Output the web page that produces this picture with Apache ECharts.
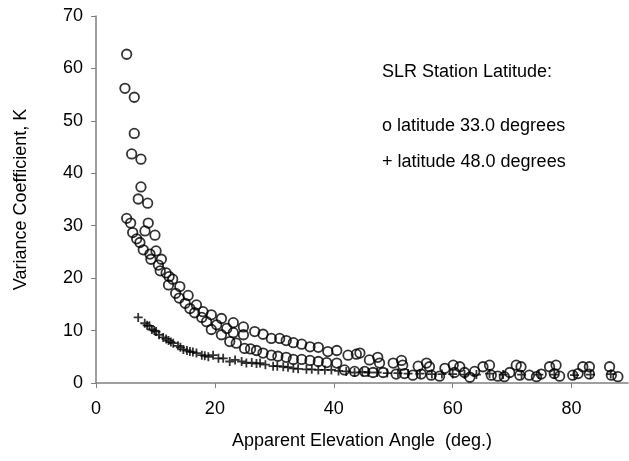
<!DOCTYPE html>
<html>
<head>
<meta charset="utf-8">
<script src="https://cdn.jsdelivr.net/npm/echarts@6/dist/echarts.min.js"></script>
<style>
  html, body { margin: 0; padding: 0; background: #fff; }
  #chart { width: 629px; height: 461px; }
</style>
</head>
<body>
<div id="chart"></div>
<script>
// elevation angle (deg) vs variance coefficient K
var lat33 = [
  [5.16, 62.7], [4.87, 56.2], [6.44, 54.5], [6.44, 47.6], [6.0, 43.7], [7.56, 42.7],
  [7.56, 37.4], [7.11, 35.1], [8.69, 34.3], [5.16, 31.4], [5.83, 30.5], [8.79, 30.5],
  [6.17, 28.7], [8.24, 29.0], [9.92, 28.2], [6.84, 27.5], [7.39, 26.8], [7.95, 25.4],
  [10.1, 25.2], [9.08, 24.6], [9.24, 23.6], [11.0, 23.6], [10.5, 22.5], [10.8, 21.4],
  [11.8, 21.0], [12.3, 20.3], [12.9, 19.8], [12.2, 18.7], [14.1, 18.4], [13.4, 17.1],
  [15.5, 16.7], [14.0, 16.2], [15.0, 15.2], [16.9, 14.9], [15.8, 14.2], [18.0, 13.6],
  [16.6, 13.4], [19.4, 13.0], [17.8, 12.5], [21.1, 12.3], [18.6, 11.7], [23.1, 11.5],
  [20.3, 11.1], [19.4, 10.2], [22.0, 10.4], [21.1, 9.2], [23.1, 9.6], [24.8, 9.2],
  [22.5, 7.9], [23.6, 7.6],
  [24.8, 10.7], [26.7, 9.8], [28.1, 9.3], [29.5, 8.5], [30.9, 8.5], [32.0, 8.1],
  [33.2, 7.7], [34.6, 7.4], [36.0, 6.9], [37.4, 6.8], [39.0, 6.0], [40.5, 6.2],
  [42.4, 5.3], [43.8, 5.5],
  [25.0, 6.6], [26.0, 6.5], [27.0, 6.2], [28.1, 5.7], [29.5, 5.3], [30.6, 5.1],
  [32.0, 4.9], [33.2, 4.5], [34.6, 4.5], [36.0, 4.3], [37.4, 4.1], [38.8, 3.9],
  [40.5, 3.8], [41.8, 2.5], [43.5, 2.2],
  [44.4, 5.7], [46.0, 4.4], [47.4, 4.9], [47.7, 3.8], [50.0, 3.8], [51.4, 4.3],
  [51.6, 3.4], [54.2, 3.2], [55.6, 3.8], [56.1, 3.1], [58.7, 2.8], [60.1, 3.4],
  [61.2, 3.1], [62.0, 2.0], [62.9, 1.1], [63.7, 2.2],
  [45.2, 2.2], [46.6, 2.0], [48.3, 2.0], [50.5, 1.7], [51.9, 1.8], [53.3, 1.5],
  [54.7, 1.7], [56.4, 1.5], [57.8, 1.3], [60.3, 2.0],
  [65.1, 3.1], [66.2, 3.4], [66.5, 1.5], [67.6, 1.3], [68.7, 1.2], [69.6, 2.0],
  [70.7, 3.4], [71.5, 3.1], [71.3, 1.5], [72.9, 1.5], [74.1, 1.2], [74.9, 1.7],
  [76.3, 3.1], [77.4, 3.4], [77.1, 1.8], [78.0, 1.3], [80.2, 1.5], [81.1, 1.8],
  [81.9, 3.1], [83.0, 3.1], [83.0, 1.7], [86.4, 3.1], [86.7, 1.5], [87.8, 1.2]
];

var lat48 = [
  [7.1, 12.5], [8.2, 11.4], [8.6, 11.0], [9.0, 10.9], [9.4, 10.2], [9.8, 10.0],
  [10.1, 9.8], [10.6, 9.2], [11.3, 8.7], [11.8, 8.4], [12.2, 8.1], [12.6, 7.8],
  [13.0, 7.6], [13.8, 7.1], [14.2, 6.8], [14.7, 6.4], [15.3, 6.2], [15.8, 6.0],
  [16.3, 5.9], [16.9, 5.7], [17.8, 5.3], [18.3, 5.2], [18.9, 5.0], [19.7, 5.3],
  [20.6, 4.7], [21.4, 4.7], [22.5, 4.1], [23.4, 4.4], [24.5, 4.1], [25.3, 3.8],
  [26.2, 3.9], [27.0, 3.7], [27.6, 3.8], [28.5, 3.5], [29.8, 3.2], [30.5, 3.2],
  [31.5, 3.1], [32.3, 3.0], [33.2, 2.8], [34.0, 2.7], [35.4, 2.6], [36.3, 2.6],
  [37.4, 2.5], [38.5, 2.5], [39.6, 2.5], [40.8, 2.3], [42.1, 2.2], [43.5, 2.0],
  [44.8, 2.1], [45.8, 2.0], [47.3, 2.0], [49.0, 1.9], [50.8, 1.9], [52.5, 1.8],
  [54.5, 1.8], [56.5, 1.7], [58.2, 1.7], [60.0, 1.7], [62.0, 1.6], [64.0, 1.6],
  [66.2, 1.8], [68.5, 1.6], [71.6, 1.6], [74.5, 1.6], [77.1, 1.6], [80.5, 1.5],
  [83.2, 1.6], [86.6, 1.7]
];

var legendLines = [
  "SLR Station Latitude:",
  "o latitude 33.0 degrees",
  "+ latitude 48.0 degrees"
];

var chart = echarts.init(document.getElementById("chart"));
var font = "Liberation Sans, Arial, sans-serif";
var axisGray = "#808080";

var option = {
  animation: false,
  backgroundColor: "#fff",
  textStyle: { fontFamily: font },
  grid: { left: 96, right: 1, top: 16, bottom: 78 },
  xAxis: {
    type: "value",
    min: 0,
    max: 89.5,
    interval: 20,
    name: "Apparent Elevation Angle  (deg.)",
    nameLocation: "middle",
    nameGap: 49,
    nameTextStyle: { fontSize: 18, color: "#000", fontFamily: font },
    axisLine: { show: true, onZero: false, lineStyle: { color: axisGray, width: 1.5 } },
    axisTick: { show: true, length: 5, lineStyle: { color: axisGray } },
    axisLabel: { fontSize: 18, color: "#000", margin: 17, showMaxLabel: false, fontFamily: font },
    splitLine: { show: false }
  },
  yAxis: {
    type: "value",
    min: 0,
    max: 70,
    interval: 10,
    name: "Variance Coefficient, K",
    nameLocation: "middle",
    nameGap: 66,
    nameTextStyle: { fontSize: 18, color: "#000", fontFamily: font },
    axisLine: { show: true, lineStyle: { color: axisGray, width: 1.5 } },
    axisTick: { show: true, length: 5, lineStyle: { color: axisGray } },
    axisLabel: { fontSize: 18, color: "#000", margin: 13, fontFamily: font },
    splitLine: { show: false }
  },
  graphic: legendLines.map(function (t, i) {
    return {
      type: "text",
      left: 382,
      top: [63, 117, 153][i],
      style: { text: t, fontSize: 18, fill: "#000", fontFamily: font }
    };
  }),
  series: [
    {
      name: "latitude 33.0 degrees",
      type: "scatter",
      symbol: "circle",
      symbolSize: 9.5,
      itemStyle: { color: "none", borderColor: "#000", borderWidth: 1.8 },
      data: lat33
    },
    {
      name: "latitude 48.0 degrees",
      type: "scatter",
      symbol: "path://M0 5L10 5M5 0L5 10",
      symbolSize: 9,
      itemStyle: { color: "none", borderColor: "#000", borderWidth: 1.8 },
      data: lat48
    }
  ]
};

chart.setOption(option);
</script>
</body>
</html>
